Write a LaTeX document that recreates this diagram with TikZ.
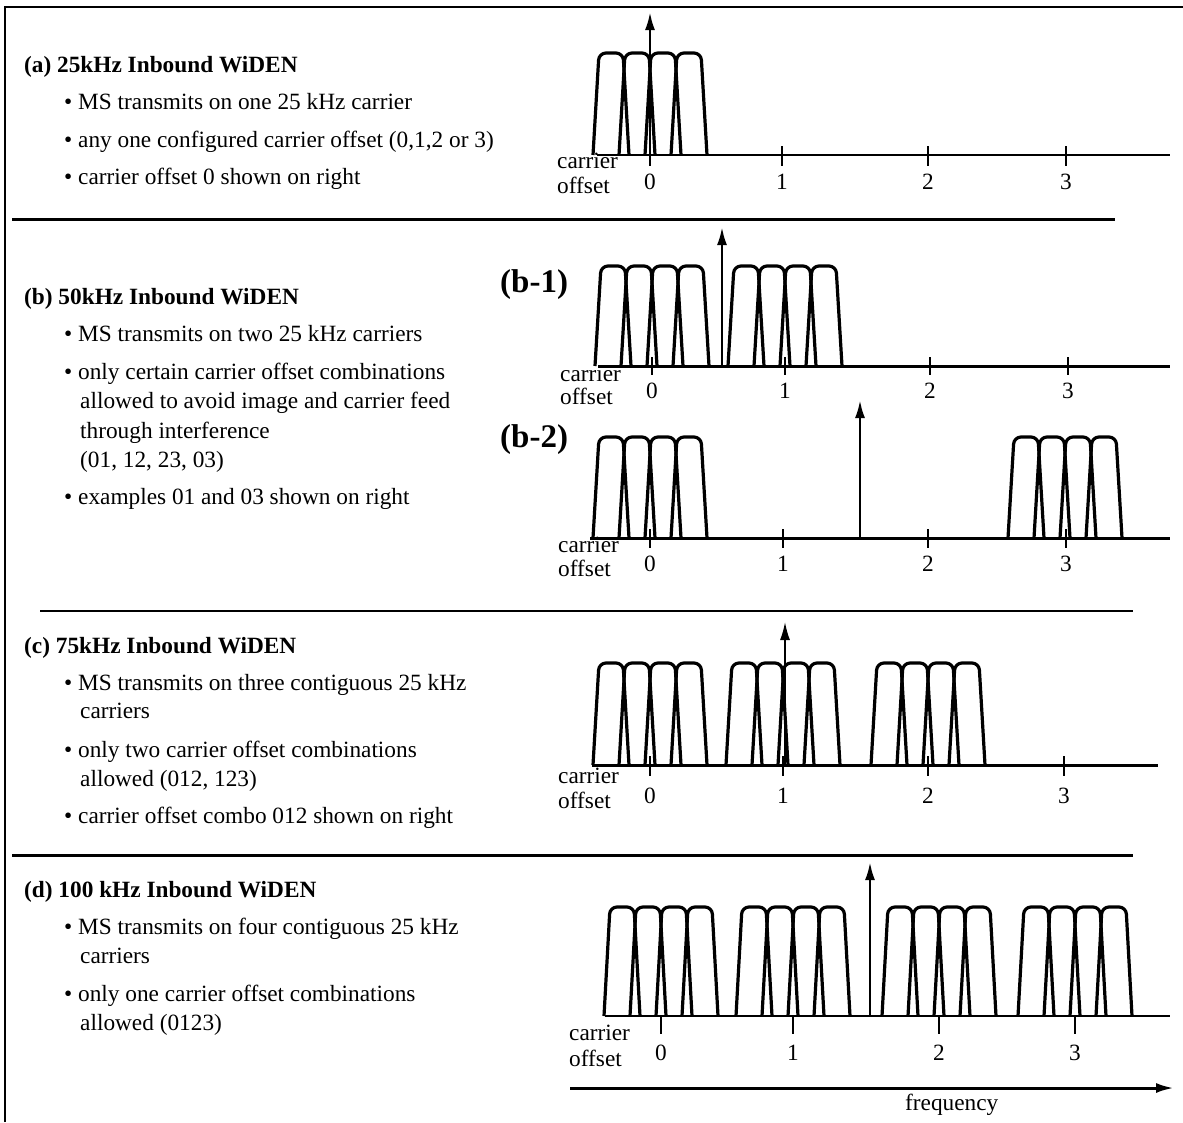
\documentclass[tikz,border=0pt]{standalone}
\usepackage{fontspec}
\setmainfont{Liberation Serif}
\usetikzlibrary{arrows.meta}
\begin{document}
\begin{tikzpicture}[x=1pt,y=-1pt]
        \tikzstyle{txt}=[anchor=base west,inner sep=0pt,font=\fontsize{23.3}{28}\selectfont]
        \tikzstyle{head}=[anchor=base west,inner sep=0pt,font=\fontsize{23.3}{28}\selectfont\bfseries]
        \tikzstyle{tag}=[anchor=base west,inner sep=0pt,font=\fontsize{33}{38}\selectfont\bfseries]
        \tikzstyle{num}=[anchor=base,inner sep=0pt,font=\fontsize{23.3}{28}\selectfont]
        \tikzstyle{pulse}=[draw,line width=3.2pt,rounded corners=7pt,line join=round]
        \tikzstyle{tick}=[draw,line width=2.6pt]
        \tikzstyle{carrier}=[draw,line width=2.6pt,-{Latex[length=18pt,width=10pt]}]
        \useasboundingbox (0,0) rectangle (1183,1122);
        % frame and separators
        \draw[line width=2.5pt] (5,1122) -- (5,7) -- (1183,7);
        \draw[line width=3pt] (12,219) -- (1115,219);
        \draw[line width=1.2pt] (40,611) -- (1133,611);
        \draw[line width=3pt] (12,855) -- (1133,855);

        % (a) 25kHz
        \begin{scope}
         \node [head] (ahead) at (24,72) {(a) 25kHz Inbound WiDEN};
         \node [txt] (a1) at (64,109) {\textbullet\ MS transmits on one 25 kHz carrier};
         \node [txt] (a2) at (64,147) {\textbullet\ any one configured carrier offset (0,1,2 or 3)};
         \node [txt] (a3) at (64,184) {\textbullet\ carrier offset 0 shown on right};
         \coordinate (aw) at (597,155);
         \coordinate (ae) at (1170,155);
         \path[draw,line width=1.6pt] (aw) -- (ae);
         \foreach \c in {650}
           \foreach \k in {-39,-13,13,39}
             \draw[pulse] ({\c+\k-18},155) -- ({\c+\k-12},53) -- ({\c+\k+12},53) -- ({\c+\k+18},155);
         \foreach \x/\n in {650/0,782/1,928/2,1066/3} {
           \draw[tick] (\x,146) -- (\x,166);
           \node [num] (anum\n) at (\x,189) {\n};
         }
         \node [txt] (acar) at (557,168) {carrier};
         \node [txt] (aoff) at (557,193) {offset};
         \coordinate (ac0) at (650,155);
         \coordinate (ac1) at (650,12);
         \path[carrier] (ac0) -- (ac1);
        \end{scope}

        % (b) 50kHz
        \begin{scope}
         \node [head] (bhead) at (24,304) {(b) 50kHz Inbound WiDEN};
         \node [txt] (b1) at (64,341) {\textbullet\ MS transmits on two 25 kHz carriers};
         \node [txt] (b2) at (64,379) {\textbullet\ only certain carrier offset combinations};
         \node [txt] (b3) at (80,408) {allowed to avoid image and carrier feed};
         \node [txt] (b4) at (80,438) {through interference};
         \node [txt] (b5) at (80,467) {(01, 12, 23, 03)};
         \node [txt] (b6) at (64,504) {\textbullet\ examples 01 and 03 shown on right};
         % (b-1)
         \node [tag] (btag1) at (500,292) {(b-1)};
         \coordinate (bw1) at (598,366);
         \coordinate (be1) at (1170,366);
         \path[draw,line width=3pt] (bw1) -- (be1);
         \foreach \c in {652,785}
           \foreach \k in {-39,-13,13,39}
             \draw[pulse] ({\c+\k-18},366) -- ({\c+\k-12},266) -- ({\c+\k+12},266) -- ({\c+\k+18},366);
         \foreach \x/\n in {652/0,785/1,930/2,1068/3} {
           \draw[tick,line width=1.6pt] (\x,357) -- (\x,375);
           \node [num] (b1num\n) at (\x,398) {\n};
         }
         \node [txt] (bcar1) at (560,381) {carrier};
         \node [txt] (boff1) at (560,404) {offset};
         \coordinate (bc10) at (722,366);
         \coordinate (bc11) at (722,227);
         \path[carrier] (bc10) -- (bc11);
         % (b-2)
         \node [tag] (btag2) at (500,447) {(b-2)};
         \coordinate (bw2) at (590,538);
         \coordinate (be2) at (1170,538);
         \path[draw,line width=3pt] (bw2) -- (be2);
         \foreach \c in {650,1065}
           \foreach \k in {-39,-13,13,39}
             \draw[pulse] ({\c+\k-18},538) -- ({\c+\k-12},437) -- ({\c+\k+12},437) -- ({\c+\k+18},538);
         \foreach \x/\n in {650/0,783/1,928/2,1066/3} {
           \draw[tick] (\x,529) -- (\x,548);
           \node [num] (b2num\n) at (\x,571) {\n};
         }
         \node [txt] (bcar2) at (558,552) {carrier};
         \node [txt] (boff2) at (558,576) {offset};
         \coordinate (bc20) at (860,538);
         \coordinate (bc21) at (860,400);
         \path[carrier] (bc20) -- (bc21);
        \end{scope}

        % (c) 75kHz
        \begin{scope}
         \node [head] (chead) at (24,653) {(c) 75kHz Inbound WiDEN};
         \node [txt] (c1) at (64,690) {\textbullet\ MS transmits on three contiguous 25 kHz};
         \node [txt] (c2) at (80,718) {carriers};
         \node [txt] (c3) at (64,757) {\textbullet\ only two carrier offset combinations};
         \node [txt] (c4) at (80,786) {allowed (012, 123)};
         \node [txt] (c5) at (64,823) {\textbullet\ carrier offset combo 012 shown on right};
         \coordinate (cw) at (592,765);
         \coordinate (ce) at (1158,765);
         \path[draw,line width=3pt] (cw) -- (ce);
         \foreach \c in {650,783,928}
           \foreach \k in {-39,-13,13,39}
             \draw[pulse] ({\c+\k-18},765) -- ({\c+\k-12},663) -- ({\c+\k+12},663) -- ({\c+\k+18},765);
         \foreach \x/\n in {650/0,783/1,928/2,1064/3} {
           \draw[tick,line width=1.8pt] (\x,756) -- (\x,776);
           \node [num] (cnum\n) at (\x,803) {\n};
         }
         \node [txt] (ccar) at (558,783) {carrier};
         \node [txt] (coff) at (558,808) {offset};
         \coordinate (cc0) at (785,765);
         \coordinate (cc1) at (785,622);
         \path[carrier,line width=1.6pt] (cc0) -- (cc1);
        \end{scope}

        % (d) 100 kHz
        \begin{scope}
         \node [head] (dhead) at (24,897) {(d) 100 kHz Inbound WiDEN};
         \node [txt] (d1) at (64,934) {\textbullet\ MS transmits on four contiguous 25 kHz};
         \node [txt] (d2) at (80,963) {carriers};
         \node [txt] (d3) at (64,1001) {\textbullet\ only one carrier offset combinations};
         \node [txt] (d4) at (80,1030) {allowed (0123)};
         \coordinate (dw) at (605,1016);
         \coordinate (de) at (1170,1016);
         \path[draw,line width=1.6pt] (dw) -- (de);
         \foreach \c in {661,793,939,1075}
           \foreach \k in {-39,-13,13,39}
             \draw[pulse] ({\c+\k-18},1016) -- ({\c+\k-12},907) -- ({\c+\k+12},907) -- ({\c+\k+18},1016);
         \foreach \x/\n in {661/0,793/1,939/2,1075/3} {
           \draw[tick,line width=1.8pt] (\x,1016) -- (\x,1034);
           \node [num] (dnum\n) at (\x,1060) {\n};
         }
         \node [txt] (dcar) at (569,1040) {carrier};
         \node [txt] (doff) at (569,1066) {offset};
         \coordinate (dc0) at (870,1016);
         \coordinate (dc1) at (870,862);
         \path[carrier] (dc0) -- (dc1);
         \coordinate (fw) at (570,1088);
         \coordinate (fe) at (1174,1088);
         \path[carrier,line width=3pt] (fw) -- (fe);
         \node [txt] (freq) at (905,1110) {frequency};
        \end{scope}
\end{tikzpicture}
\end{document}
